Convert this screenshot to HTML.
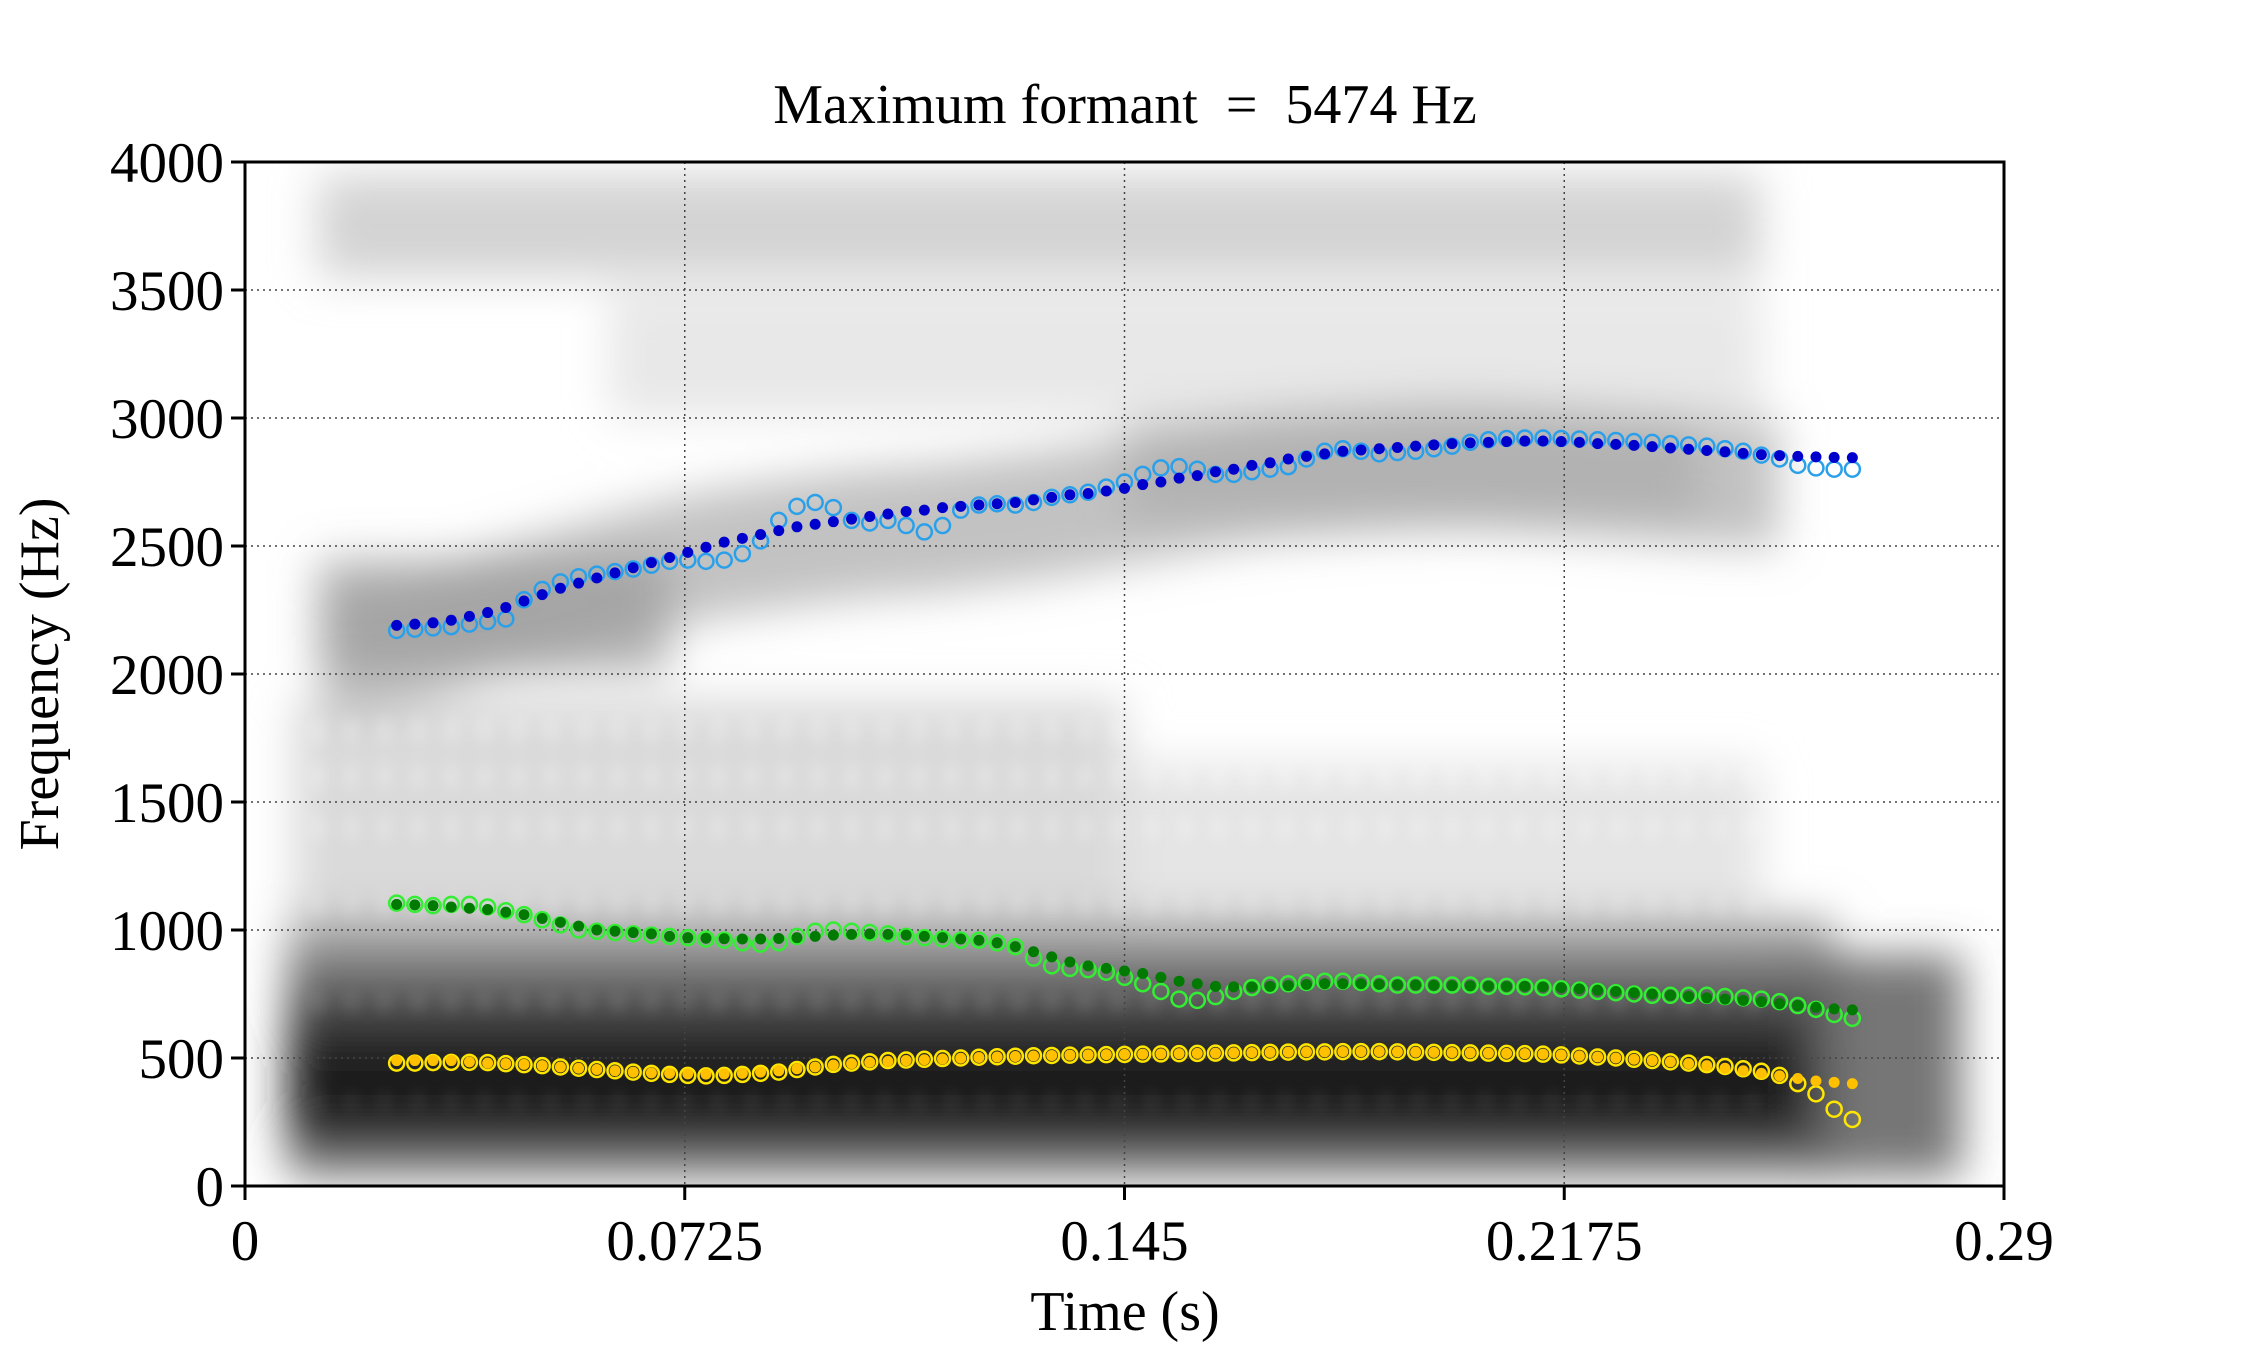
<!DOCTYPE html>
<html><head><meta charset="utf-8"><style>
html,body{margin:0;padding:0;background:#fff}
svg{display:block;font-family:"Liberation Serif",serif}
</style></head><body>
<svg id="chart" width="2250" height="1350" viewBox="0 0 2250 1350">
<defs>
<filter id="blur" x="-30%" y="-30%" width="160%" height="160%"><feGaussianBlur stdDeviation="22"/></filter>
<filter id="blur2" x="-30%" y="-30%" width="160%" height="160%"><feGaussianBlur stdDeviation="8"/></filter>
<clipPath id="plotclip"><rect x="245" y="162" width="1759" height="1024"/></clipPath>
<linearGradient id="lowband" x1="0" y1="1" x2="0" y2="0">
<stop offset="0" stop-color="#ddd"/><stop offset="0.08" stop-color="#666"/><stop offset="0.3" stop-color="#111"/><stop offset="0.55" stop-color="#2a2a2a"/><stop offset="0.8" stop-color="#777"/><stop offset="1" stop-color="#bbb"/>
</linearGradient>
</defs>
<g id="spec" clip-path="url(#plotclip)"></g>
<g id="grid"></g>
<g id="marks" clip-path="url(#plotclip)"></g>
<rect x="245" y="162" width="1759" height="1024" fill="none" stroke="#000" stroke-width="3"/>
<g id="axes"></g>
<text x="1125" y="123" text-anchor="middle" font-size="56">Maximum formant&#160; =&#160; 5474 Hz</text>
<text x="1125" y="1330" text-anchor="middle" font-size="56">Time (s)</text>
<text transform="translate(58,674) rotate(-90)" text-anchor="middle" font-size="56">Frequency (Hz)</text>
</svg>
<script>
const xTicks=[0,0.0725,0.145,0.2175,0.29];
const xTickLabels=["0","0.0725","0.145","0.2175","0.29"];
const yTicks=[0,500,1000,1500,2000,2500,3000,3500,4000];
const tStart=0.025, tEnd=0.265;
const f2Smooth=[2190,2195,2200,2210,2225,2240,2260,2285,2310,2335,2355,2375,2395,2415,2435,2455,2475,2495,2515,2530,2545,2560,2575,2585,2595,2605,2615,2625,2635,2640,2650,2655,2660,2665,2670,2680,2690,2700,2705,2715,2725,2740,2750,2765,2775,2790,2800,2815,2825,2840,2850,2860,2870,2875,2880,2885,2890,2895,2900,2903,2905,2908,2910,2910,2908,2905,2900,2897,2893,2888,2883,2878,2873,2868,2862,2857,2853,2850,2848,2846,2845];
const f2Raw=[2170,2175,2180,2185,2195,2205,2215,2290,2330,2360,2380,2390,2400,2410,2425,2440,2445,2440,2445,2470,2520,2600,2655,2670,2650,2600,2590,2600,2580,2555,2580,2640,2660,2665,2660,2670,2690,2700,2710,2730,2750,2780,2805,2810,2800,2780,2780,2790,2800,2810,2840,2870,2880,2870,2860,2865,2870,2880,2890,2905,2915,2920,2922,2922,2920,2918,2915,2912,2908,2905,2900,2895,2890,2880,2870,2855,2840,2815,2805,2800,2800];
const f1Smooth=[1100,1098,1095,1090,1085,1080,1070,1060,1045,1030,1015,1000,995,990,985,975,970,968,966,965,965,967,970,975,980,983,985,983,980,975,970,965,960,950,935,915,895,875,860,850,840,830,815,800,790,780,778,778,780,783,787,790,790,790,788,786,785,784,783,782,781,780,780,778,775,770,765,760,755,750,745,740,735,730,725,720,712,705,698,692,688];
const f1Raw=[1105,1100,1095,1100,1100,1090,1075,1060,1040,1020,1000,995,990,985,980,975,970,965,960,950,945,950,975,995,1000,995,990,985,975,970,965,960,960,950,935,890,860,850,845,835,815,790,760,730,725,740,760,775,785,790,795,800,800,795,790,785,785,785,785,785,780,780,778,775,770,765,760,755,750,745,745,745,745,740,735,730,720,705,690,670,655];
const f0Smooth=[490,490,490,490,485,480,478,475,470,465,460,455,450,445,442,440,438,437,438,440,445,450,458,465,472,478,483,487,490,493,496,499,502,504,506,508,510,511,512,513,514,515,516,517,518,519,520,521,522,523,524,524,525,525,525,524,523,522,521,520,519,518,517,515,512,508,504,500,495,490,485,478,470,460,450,440,430,420,410,405,400];
const f0Raw=[480,480,482,483,483,482,478,474,470,465,460,455,450,445,440,436,432,430,432,436,440,445,455,465,475,480,485,490,492,495,498,500,503,505,507,509,510,511,512,513,514,515,516,517,518,519,520,521,522,523,524,524,525,525,525,524,523,522,521,520,519,518,517,515,512,508,504,500,495,490,485,480,474,467,458,448,432,400,360,300,260];

const NS="http://www.w3.org/2000/svg";
const X0=245,X1=2004,Y0=1186,Y1=162;
function xs(t){return X0+(t/0.29)*(X1-X0);}
function ys(f){return Y0-(f/4000)*(Y0-Y1);}
function mk(tag,attrs,parent){const e=document.createElementNS(NS,tag);for(const k in attrs)e.setAttribute(k,attrs[k]);parent.appendChild(e);return e;}

const spec=document.getElementById('spec');
const sg=mk('g',{filter:'url(#blur)'},spec);
mk('rect',{x:xs(0.012),y:ys(3950),width:xs(0.25)-xs(0.012),height:ys(3550)-ys(3950),fill:'#c4c4c4',opacity:0.75},sg);
mk('rect',{x:xs(0.06),y:ys(3500),width:xs(0.25)-xs(0.06),height:ys(3000)-ys(3500),fill:'#e2e2e2',opacity:0.8},sg);
mk('rect',{x:xs(0.145),y:ys(3000),width:xs(0.24)-xs(0.145),height:ys(2600)-ys(3000),fill:'#d0d0d0',opacity:0.8},sg);
mk('rect',{x:xs(0.008),y:ys(1900),width:xs(0.145)-xs(0.008),height:ys(950)-ys(1900),fill:'#d4d4d4',opacity:0.85},sg);
mk('rect',{x:xs(0.145),y:ys(1650),width:xs(0.25)-xs(0.145),height:ys(950)-ys(1650),fill:'#e0e0e0',opacity:0.85},sg);
mk('rect',{x:xs(0.012),y:ys(2450),width:xs(0.07)-xs(0.012),height:ys(2000)-ys(2450),fill:'#888',opacity:0.6},sg);
let pts=[];
for(let i=0;i<f2Smooth.length;i++){const t=tStart+i*(tEnd-tStart)/(f2Smooth.length-1);pts.push(xs(t-0.012)+','+ys(f2Smooth[i]+150));}
for(let i=f2Smooth.length-1;i>=0;i--){const t=tStart+i*(tEnd-tStart)/(f2Smooth.length-1);pts.push(xs(t-0.012)+','+ys(f2Smooth[i]-350));}
mk('polygon',{points:pts.join(' '),fill:'#999',opacity:0.6},sg);
mk('rect',{x:xs(0.007),y:ys(1050),width:xs(0.262)-xs(0.007),height:ys(10)-ys(1050),fill:'url(#lowband)'},sg);
mk('rect',{x:xs(0.258),y:ys(900),width:xs(0.283)-xs(0.258),height:ys(40)-ys(900),fill:'#666',opacity:0.9},sg);
const sg2=mk('g',{filter:'url(#blur2)',opacity:0.55},spec);
for(let t=0.012;t<0.25;t+=0.0055){
  mk('ellipse',{cx:xs(t),cy:ys(1780),rx:4,ry:14,fill:'#fff'},sg2);
  mk('ellipse',{cx:xs(t),cy:ys(1600),rx:4,ry:14,fill:'#fff'},sg2);
  mk('ellipse',{cx:xs(t),cy:ys(1400),rx:4,ry:14,fill:'#fff'},sg2);
  mk('ellipse',{cx:xs(t),cy:ys(1100),rx:3,ry:12,fill:'#fff'},sg2);
  mk('ellipse',{cx:xs(t),cy:ys(720),rx:3,ry:10,fill:'#bbb'},sg2);
  mk('ellipse',{cx:xs(t),cy:ys(330),rx:3,ry:10,fill:'#777'},sg2);
}

const grid=document.getElementById('grid'), axes=document.getElementById('axes');
xTicks.forEach((t,i)=>{
  const x=xs(t);
  if(i>0&&i<xTicks.length-1){const l=mk('line',{x1:x,x2:x,y1:Y1,y2:Y0,stroke:'#444','stroke-width':1.5,'stroke-dasharray':'2,4'},grid);
  
  }
  mk('line',{x1:x,x2:x,y1:Y0,y2:Y0+14,stroke:'#000','stroke-width':3},axes);
  const tx=mk('text',{x:x,y:1260,'text-anchor':'middle','font-size':57},axes);tx.textContent=xTickLabels[i];
  
  
});
yTicks.forEach((f)=>{
  const y=ys(f);
  if(f>0&&f<4000){const l=mk('line',{x1:X0,x2:X1,y1:y,y2:y,stroke:'#444','stroke-width':1.5,'stroke-dasharray':'2,4'},grid);
  
  }
  mk('line',{x1:X0-14,x2:X0,y1:y,y2:y,stroke:'#000','stroke-width':3},axes);
  const tx=mk('text',{x:224,y:y+20,'text-anchor':'end','font-size':57},axes);tx.textContent=String(f);
  
  
});

const marks=document.getElementById('marks');
function series(arr,name,filled,color){
  const g=mk('g',{},marks);
  
  
  arr.forEach((f,i)=>{
    const t=tStart+i*(tEnd-tStart)/(arr.length-1);
    const c=filled?mk('circle',{cx:xs(t),cy:ys(f),r:5.5,fill:color},g):mk('circle',{cx:xs(t),cy:ys(f),r:7.5,fill:'none',stroke:color,'stroke-width':2.5},g);
    
    
  });
}
series(f2Raw,'f2-raw',false,'#2aa0ea');
series(f1Raw,'f1-raw',false,'#33ee33');
series(f0Raw,'f0-raw',false,'#ffe600');
series(f2Smooth,'f2-smooth',true,'#0000cc');
series(f1Smooth,'f1-smooth',true,'#007a00');
series(f0Smooth,'f0-smooth',true,'#ffc000');
</script>
</body></html>
